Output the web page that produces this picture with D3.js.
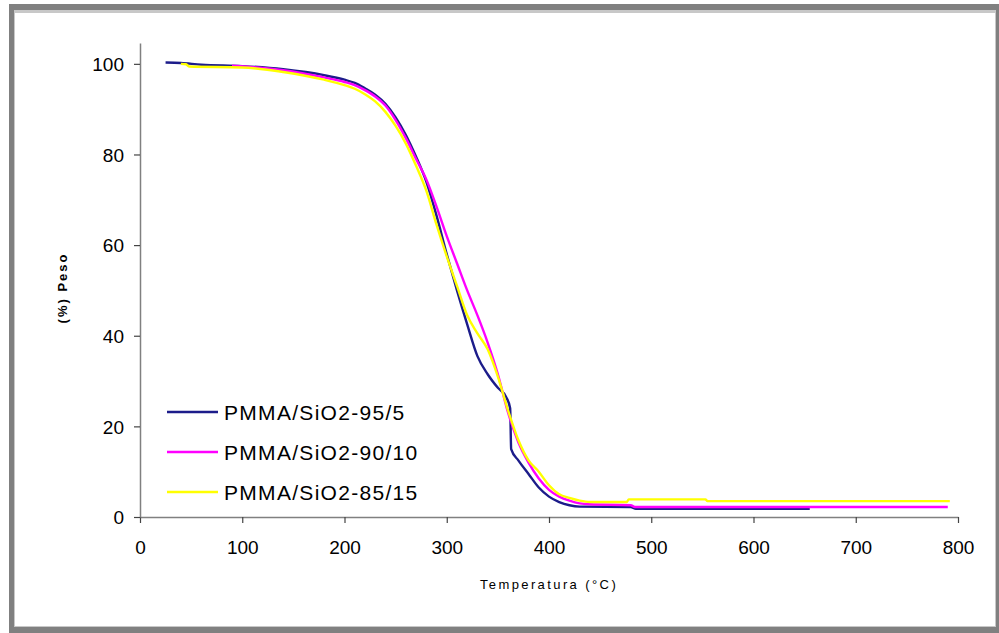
<!DOCTYPE html>
<html>
<head>
<meta charset="utf-8">
<script src="https://cdn.jsdelivr.net/npm/d3@7"></script>
<style>
  body { margin: 0; background: #fff; }
  svg { display: block; }
  .tick text { font-family: "Liberation Sans", Arial, sans-serif; font-size: 19px; fill: #000; }
  .legend text { font-family: "Liberation Sans", Arial, sans-serif; font-size: 21px; letter-spacing: 1.3px; }
</style>
</head>
<body>
<div id="chart"></div>
<script>
// TGA curves: temperature (°C) and weight (%)
var seriesNames = ["PMMA/SiO2-95/5", "PMMA/SiO2-90/10", "PMMA/SiO2-85/15"];
var seriesColors = ["#1c1c8a", "#ff00ff", "#ffff00"];

var tempA = [25, 40, 60, 100, 140, 180, 200, 210, 220, 230, 240, 250, 260, 270, 280, 290, 300, 310, 320, 330, 340, 350, 358, 362, 363, 370, 380, 390, 400, 410, 420, 430, 480, 485, 655];
var pesoA = [100.3, 100.2, 99.8, 99.5, 98.8, 97.5, 96.5, 95.8, 94.6, 93.2, 91.2, 88.2, 84.3, 79.5, 74, 66.5, 58, 50, 42.5, 35.5, 31.5, 28.5, 26.5, 24, 15, 12.5, 9.5, 6.5, 4.5, 3.3, 2.6, 2.3, 2.2, 1.8, 1.8];

var tempB = [90, 140, 180, 200, 210, 220, 230, 240, 250, 260, 270, 280, 290, 300, 310, 320, 330, 340, 350, 360, 370, 380, 390, 400, 410, 420, 430, 440, 480, 484, 790];
var pesoB = [99.6, 98.6, 97, 96, 95.3, 94.2, 92.8, 90.8, 87.6, 83.6, 79, 74.5, 68.5, 62, 56, 50, 44.5, 38.5, 31.5, 23, 16.5, 12, 8.5, 6, 4.5, 3.6, 3.0, 2.8, 2.6, 2.2, 2.2];

var tempC = [40, 45, 48, 100, 140, 180, 200, 210, 220, 230, 240, 250, 260, 270, 280, 290, 300, 310, 320, 330, 340, 350, 360, 370, 380, 390, 400, 410, 420, 430, 440, 476, 478, 553, 555, 792];
var pesoC = [100, 99.9, 99.4, 99.2, 98.2, 96.5, 95.3, 94.5, 93.3, 91.7, 89.4, 86.3, 82.4, 77.5, 72, 64.5, 57.5, 51, 44.5, 40.5, 37, 31, 23.5, 17, 12.5, 10, 7, 5, 4.2, 3.6, 3.3, 3.3, 3.9, 3.9, 3.5, 3.5];

var xTicks = [0, 100, 200, 300, 400, 500, 600, 700, 800];
var yTicks = [0, 20, 40, 60, 80, 100];

var width = 999, height = 633;
var svg = d3.select("#chart").append("svg")
    .attr("width", width)
    .attr("height", height);

// frame
svg.append("rect").attr("x", 9).attr("y", 4).attr("width", 990).attr("height", 629).attr("fill", "#808080");
svg.append("rect").attr("x", 14).attr("y", 10).attr("width", 982).attr("height", 617).attr("fill", "#c8c8c8");
svg.append("rect").attr("x", 15).attr("y", 13).attr("width", 980).attr("height", 613).attr("fill", "#fff");

var x = d3.scaleLinear().domain([0, 800]).range([140, 958]);
var y = d3.scaleLinear().domain([0, 104.6]).range([517, 43]);

var xAxis = svg.append("g")
    .attr("transform", "translate(0," + y(0) + ")")
    .call(d3.axisBottom(x).tickValues(xTicks).tickSize(6).tickPadding(18).tickSizeOuter(0));
var yAxis = svg.append("g")
    .attr("transform", "translate(" + x(0) + ",0)")
    .call(d3.axisLeft(y).tickValues(yTicks).tickSize(6).tickPadding(10).tickSizeOuter(0));
[xAxis, yAxis].forEach(function(a) {
    a.select(".domain").attr("stroke", "#808080").attr("stroke-width", 1.5);
    a.selectAll(".tick line").attr("stroke", "#444").attr("stroke-width", 1.2);
});
yAxis.selectAll(".tick text").attr("dy", "0.36em");

var line = d3.line()
    .curve(d3.curveMonotoneX)
    .x(function(d) { return x(d[0]); })
    .y(function(d) { return y(d[1]); });

var series = [d3.zip(tempA, pesoA), d3.zip(tempB, pesoB), d3.zip(tempC, pesoC)];
series.forEach(function(pts, i) {
    svg.append("path")
        .attr("d", line(pts))
        .attr("fill", "none")
        .attr("stroke", seriesColors[i])
        .attr("stroke-width", 2.4);
});

// legend
var legend = svg.append("g").attr("class", "legend");
seriesNames.forEach(function(name, i) {
    var ly = 412 + i * 40;
    legend.append("line")
        .attr("x1", 167).attr("x2", 218)
        .attr("y1", ly).attr("y2", ly)
        .attr("stroke", seriesColors[i]).attr("stroke-width", 2.4);
    legend.append("text")
        .attr("x", 224).attr("y", ly + 8)
        .text(name);
});

// axis titles
svg.append("text")
    .attr("x", 549).attr("y", 589)
    .attr("text-anchor", "middle")
    .style("font-family", "'Liberation Sans', Arial, sans-serif")
    .style("font-size", "13px")
    .style("letter-spacing", "2.4px")
    .text("Temperatura (°C)");

svg.append("text")
    .attr("transform", "translate(67,288) rotate(-90)")
    .attr("text-anchor", "middle")
    .style("font-family", "'Liberation Sans', Arial, sans-serif")
    .style("font-size", "13px")
    .style("font-weight", "bold")
    .style("letter-spacing", "2px")
    .text("(%) Peso");
</script>
</body>
</html>
